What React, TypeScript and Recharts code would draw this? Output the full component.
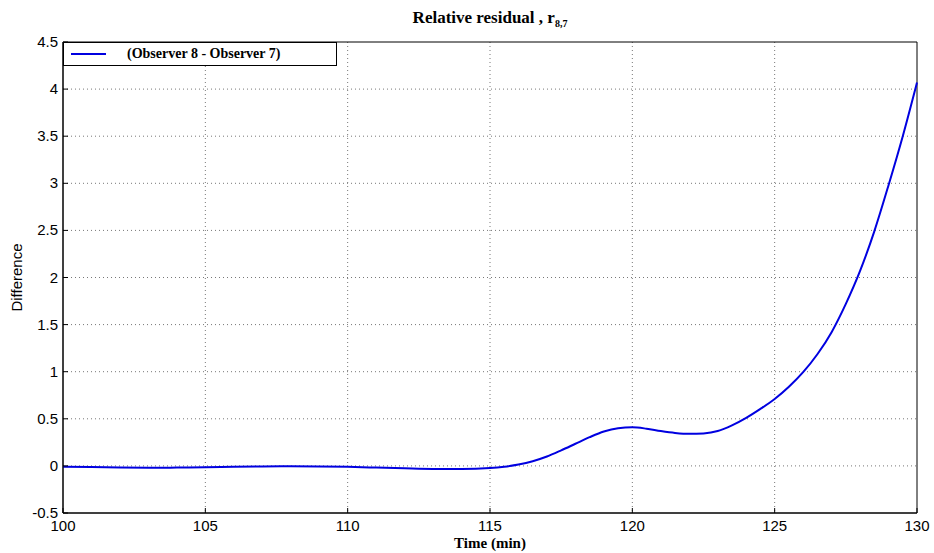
import React from "react"
import {
  LineChart,
  Line,
  XAxis,
  YAxis,
  CartesianGrid,
  Legend,
  ReferenceArea,
} from "recharts"

// time (min)
const time = [
  100, 101, 102, 103, 104, 105, 106, 107, 108, 109, 110, 111, 112, 113, 114, 115,
  115.5, 116, 116.5, 117, 117.5, 118, 118.5, 119, 119.5, 120, 120.5, 121, 121.5,
  122, 122.5, 123, 123.5, 124, 124.5, 125, 125.5, 126, 126.5, 127, 127.5, 128,
  128.5, 129, 129.5, 130,
]

// Observer 8 - Observer 7
const residual = [
  -0.01, -0.012, -0.018, -0.02, -0.018, -0.015, -0.01, -0.006, -0.004, -0.006,
  -0.01, -0.018, -0.026, -0.032, -0.032, -0.022,
  -0.008, 0.015, 0.05, 0.1, 0.165, 0.235, 0.305, 0.365, 0.4, 0.41, 0.395, 0.37,
  0.35, 0.34, 0.345, 0.37, 0.43, 0.51, 0.605, 0.71, 0.84, 0.995, 1.185, 1.42, 1.72,
  2.07, 2.49, 2.98, 3.5, 4.07,
]

const xTicks = [100, 105, 110, 115, 120, 125, 130]
const yTicks = [-0.5, 0, 0.5, 1, 1.5, 2, 2.5, 3, 3.5, 4, 4.5]

const seriesName = "(Observer 8 - Observer 7)"

const data = time.map((t, i) => ({ t, r: residual[i] }))

const sans = "Arial, 'Liberation Sans', sans-serif"
const serif = "'Times New Roman', 'Liberation Serif', serif"

function BottomTick({ x, y, payload }: any) {
  return (
    <g>
      <line x1={x} x2={x} y1={y} y2={y - 5} stroke="#000" />
      <text x={x} y={y + 18} textAnchor="middle" fontFamily={sans} fontSize={15} fill="#000">
        {payload.value}
      </text>
    </g>
  )
}

function TopTick({ x, y }: any) {
  return <line x1={x} x2={x} y1={y} y2={y + 5} stroke="#000" />
}

function LeftTick({ x, y, payload }: any) {
  return (
    <g>
      <line x1={x} x2={x + 5} y1={y} y2={y} stroke="#000" />
      <text x={x - 5} y={y + 5} textAnchor="end" fontFamily={sans} fontSize={15} fill="#000">
        {payload.value}
      </text>
    </g>
  )
}

function RightTick({ x, y }: any) {
  return <line x1={x} x2={x - 5} y1={y} y2={y} stroke="#000" />
}

function LegendBox() {
  return (
    <div
      style={{
        width: 272,
        height: 22,
        border: "1px solid #000",
        background: "#fff",
        display: "flex",
        alignItems: "center",
        boxSizing: "content-box",
      }}
    >
      <svg width={50} height={22}>
        <line x1={7} x2={42} y1={11} y2={11} stroke="#0000e0" strokeWidth={2} />
      </svg>
      <span
        style={{
          fontFamily: serif,
          fontWeight: "bold",
          fontSize: 14,
          marginLeft: 13,
          color: "#000",
        }}
      >
        {seriesName}
      </span>
    </div>
  )
}

export default function App() {
  return (
    <div
      style={{
        position: "absolute",
        left: 0,
        top: 0,
        width: 934,
        height: 553,
        background: "#fff",
      }}
    >
      <div
        style={{
          position: "absolute",
          top: 8,
          left: 0,
          width: 980,
          textAlign: "center",
          fontFamily: serif,
          fontWeight: "bold",
          fontSize: 17,
          color: "#000",
        }}
      >
        Relative residual , r<sub style={{ fontSize: 10 }}>8,7</sub>
      </div>
      <LineChart
        width={934}
        height={553}
        data={data}
        margin={{ top: 0, right: 0, left: 0, bottom: 0 }}
      >
        <CartesianGrid
          stroke="#777"
          strokeDasharray="1 3"
          verticalValues={[105, 110, 115, 120, 125]}
          horizontalValues={[0, 0.5, 1, 1.5, 2, 2.5, 3, 3.5, 4]}
        />
        <XAxis
          dataKey="t"
          type="number"
          domain={[100, 130]}
          ticks={xTicks}
          height={40}
          tickSize={0}
          tickMargin={0}
          axisLine={{ stroke: "#000" }}
          tick={<BottomTick />}
          interval={0}
          label={{
            value: "Time (min)",
            position: "insideBottom",
            offset: 5,
            style: { fontFamily: serif, fontWeight: "bold", fontSize: 15, fill: "#000" },
          }}
        />
        <XAxis
          xAxisId="top"
          orientation="top"
          type="number"
          domain={[100, 130]}
          ticks={xTicks}
          height={42}
          tickSize={0}
          tickMargin={0}
          axisLine={false}
          tick={<TopTick />}
          interval={0}
        />
        <YAxis
          type="number"
          domain={[-0.5, 4.5]}
          ticks={yTicks}
          width={63}
          tickSize={0}
          tickMargin={0}
          axisLine={{ stroke: "#000" }}
          tick={<LeftTick />}
          interval={0}
          label={{
            value: "Difference",
            angle: -90,
            position: "insideLeft",
            offset: 17,
            style: { fontFamily: sans, fontSize: 15, fill: "#000", textAnchor: "middle" },
          }}
        />
        <YAxis
          yAxisId="right"
          orientation="right"
          type="number"
          domain={[-0.5, 4.5]}
          ticks={yTicks}
          width={17}
          tickSize={0}
          tickMargin={0}
          axisLine={false}
          tick={<RightTick />}
          interval={0}
        />
        <ReferenceArea
          x1={100}
          x2={130}
          y1={-0.5}
          y2={4.5}
          fill="none"
          stroke="#000"
          strokeWidth={1}
          ifOverflow="visible"
        />
        <Legend
          layout="vertical"
          align="center"
          verticalAlign="middle"
          wrapperStyle={{ top: 42, left: 63, width: "auto", height: "auto" }}
          content={() => <LegendBox />}
        />
        <Line
          dataKey="r"
          name={seriesName}
          type="monotone"
          stroke="#0000e0"
          strokeWidth={2}
          dot={false}
          isAnimationActive={false}
        />
      </LineChart>
    </div>
  )
}
